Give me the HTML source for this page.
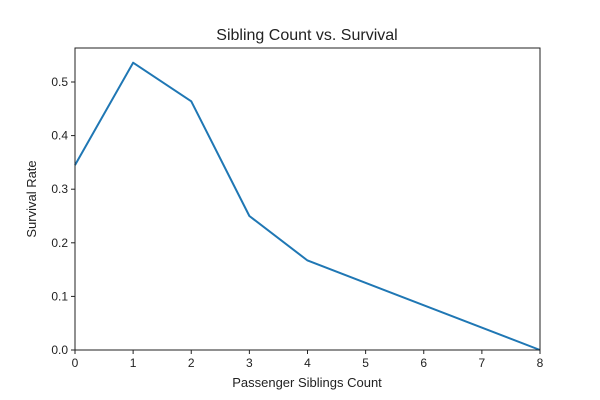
<!DOCTYPE html>
<html><head><meta charset="utf-8"><style>
body{margin:0;background:#fff;}
svg{display:block;font-family:"Liberation Sans","DejaVu Sans",sans-serif;}
</style></head><body>
<svg id="chart" width="600" height="400" viewBox="0 0 600 400">
<rect x="0" y="0" width="600" height="400" fill="#fff"/>
<text x="307" y="40" text-anchor="middle" font-size="16" fill="#222">Sibling Count vs. Survival</text>
<g id="plot"></g>
<rect x="75" y="48" width="465" height="302" fill="none" stroke="#222" stroke-width="1"/>
<text x="307" y="387" text-anchor="middle" font-size="13" fill="#222">Passenger Siblings Count</text>
<text transform="translate(36,199) rotate(-90)" text-anchor="middle" font-size="13" fill="#222">Survival Rate</text>
</svg>
<script>
const sibCounts=[0,1,2,3,4,8];
const survivalRates=[0.345,0.536,0.464,0.25,0.167,0];
const xTicks=[0,1,2,3,4,5,6,7,8];
const yTicks=[0,0.1,0.2,0.3,0.4,0.5];
const X0=75,X1=540,Y0=350,Y1=48;
const xs=v=>X0+(v-0)/(8-0)*(X1-X0);
const ys=v=>Y0-v*536;
const NS="http://www.w3.org/2000/svg";
const g=document.getElementById('plot');
function mk(t,a){const e=document.createElementNS(NS,t);for(const k in a)e.setAttribute(k,a[k]);g.appendChild(e);return e;}
xTicks.forEach(v=>{
 const l=mk('line',{x1:xs(v),x2:xs(v),y1:Y0,y2:Y0+4,stroke:'#222'});
 
 
 const t=mk('text',{x:xs(v),y:Y0+17,'text-anchor':'middle','font-size':12,fill:'#222'});
 t.textContent=v;
 
 
});
yTicks.forEach(v=>{
 const l=mk('line',{x1:X0-4,x2:X0,y1:ys(v),y2:ys(v),stroke:'#222'});
 
 
 const t=mk('text',{x:X0-7,y:ys(v)+4,'text-anchor':'end','font-size':12,fill:'#222'});
 t.textContent=v.toFixed(1);
 
 
});
const pts=sibCounts.map((c,i)=>xs(c)+','+ys(survivalRates[i])).join(' ');
const line=mk('polyline',{points:pts,fill:'none',stroke:'#1f77b4','stroke-width':2,'stroke-linejoin':'round'});


</script>
</body></html>
